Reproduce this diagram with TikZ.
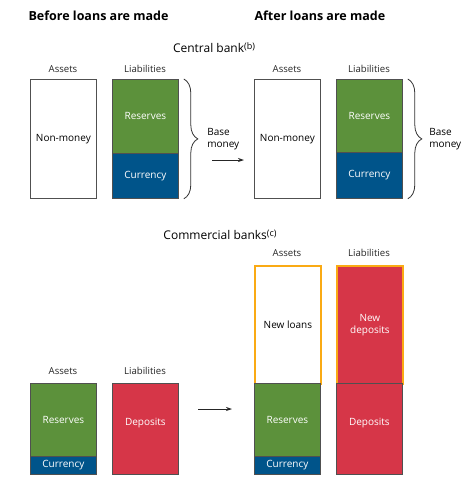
\documentclass[tikz,border=0pt]{standalone}
\usepackage{fontspec}
\setmainfont{Open Sans}
\usepackage{tikz}
\usetikzlibrary{decorations.pathreplacing,arrows.meta}

\begin{document}
\begin{tikzpicture}[x=1pt, y=-1pt, every node/.style={font=\fontsize{10}{12}\selectfont}]
		% Define colors
		\definecolor{boegreen}{RGB}{92, 145, 59}
		\definecolor{boeblue}{RGB}{0, 84, 138}
		\definecolor{boered}{RGB}{214, 54, 72}
		\definecolor{boeorange}{RGB}{250, 170, 20}
		\definecolor{edgegrey}{RGB}{80, 80, 80}

		% Styles
		\tikzstyle{bal_box} = [draw=edgegrey, line width=0.8pt, anchor=north west, minimum width=66pt, align=center, inner sep=0pt]
		\tikzstyle{res_box} = [bal_box, fill=boegreen, text=white]
		\tikzstyle{cur_box} = [bal_box, fill=boeblue, text=white]
		\tikzstyle{dep_box} = [bal_box, fill=boered, text=white]
		\tikzstyle{new_box} = [bal_box, draw=boeorange, line width=1.8pt]
		\tikzstyle{side_label} = [font=\fontsize{9.6}{11}\selectfont, text=black!85]
		\tikzstyle{part_title} = [font=\fontsize{12.5}{14}\selectfont\bfseries, anchor=west]
		\tikzstyle{bank_title} = [font=\fontsize{12}{14}\selectfont]
		\tikzstyle{base_brace} = [decorate, decoration={brace, amplitude=14pt}, line width=0.8pt, black!80]
		\tikzstyle{step_arrow} = [-{Stealth[length=6pt, width=4pt]}, line width=0.8pt, black!85]

		\newcommand{\banknote}[1]{\raisebox{0.5ex}{\fontsize{9}{10}\selectfont(#1)}}

		\useasboundingbox (0,0) rectangle (473,491);

		% Titles
		\node[part_title] (before) at (25,16) {Before loans are made};
		\node[part_title] (after) at (251,16) {After loans are made};
		\node[bank_title] (central) at (214,48) {Central bank\banknote{b}};
		\node[bank_title] (commercial) at (220,235) {Commercial banks\banknote{c}};

		% Central bank, before
		\node[side_label] (cbassetsa) at (63,69) {Assets};
		\node[side_label] (cbliaba) at (145,69) {Liabilities};
		\node[bal_box, minimum height=119pt] (cbnonma) at (30,79) {Non-money};
		\node[res_box, minimum height=74pt] (cbresa) at (112,79) {Reserves};
		\node[cur_box, minimum height=45pt] (cbcura) at (112,153) {Currency};
		\draw[base_brace] ([xshift=5pt]cbresa.north east) -- ([xshift=5pt]cbcura.south east) coordinate[midway, xshift=14pt] (bracea);
		\node[anchor=west, align=left] (basea) at ([xshift=6pt]bracea) {Base\\money};

		% Central bank, after
		\node[side_label] (cbassetsb) at (287,69) {Assets};
		\node[side_label] (cbliabb) at (369,69) {Liabilities};
		\node[bal_box, minimum height=119pt] (cbnonmb) at (254,79) {Non-money};
		\node[res_box, minimum height=73pt] (cbresb) at (336,79) {Reserves};
		\node[cur_box, minimum height=46pt] (cbcurb) at (336,152) {Currency};
		\draw[base_brace] ([xshift=5pt]cbresb.north east) -- ([xshift=5pt]cbcurb.south east) coordinate[midway, xshift=14pt] (braceb);
		\node[anchor=west, align=left] (baseb) at ([xshift=4pt]braceb) {Base\\money};

		% Arrow between central bank sheets
		\coordinate (cbfrom) at (212,160);
		\coordinate (cbto) at (244,160);
		\draw[step_arrow] (cbfrom) -- (cbto);

		% Commercial banks, before
		\node[side_label] (bkassetsa) at (63,371) {Assets};
		\node[side_label] (bkliaba) at (145,371) {Liabilities};
		\node[res_box, minimum height=73pt] (bkresa) at (30,383) {Reserves};
		\node[cur_box, minimum height=18pt] (bkcura) at (30,456) {Currency};
		\node[dep_box, minimum height=91pt] (bkdepa) at (112,383) {\raisebox{15pt}{Deposits}};

		% Commercial banks, after
		\node[side_label] (bkassetsb) at (287,253) {Assets};
		\node[side_label] (bkliabb) at (369,253) {Liabilities};
		\node[new_box, fill=white, minimum height=118pt] (bkloans) at (254,265) {New loans};
		\node[res_box, minimum height=73pt] (bkresb) at (254,383) {Reserves};
		\node[cur_box, minimum height=18pt] (bkcurb) at (254,456) {Currency};
		\node[new_box, fill=boered, text=white, minimum height=118pt] (bknewdep) at (336,265) {New\\deposits};
		\node[dep_box, minimum height=91pt] (bkdepb) at (336,383) {\raisebox{15pt}{Deposits}};

		% Arrow between commercial bank sheets
		\coordinate (bkfrom) at (198,409);
		\coordinate (bkto) at (232,409);
		\draw[step_arrow] (bkfrom) -- (bkto);

	\end{tikzpicture}
\end{document}
